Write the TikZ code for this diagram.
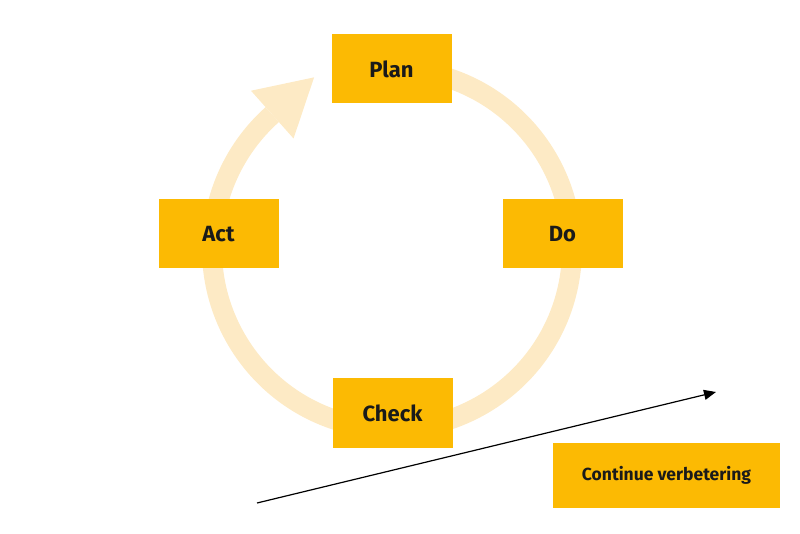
\documentclass[tikz,border=0pt]{standalone}
\usepackage{fontspec}
\setmainfont{Fira Sans}
\usepackage{tikz}
\usetikzlibrary{arrows.meta,positioning,calc}
\definecolor{boxyellow}{RGB}{252,186,3}
\definecolor{ringyellow}{RGB}{253,234,197}
\definecolor{textdark}{RGB}{26,26,26}

\begin{document}
\begin{tikzpicture}[x=1pt, y=1pt,
    stepbox/.style={rectangle, fill=boxyellow, minimum width=120pt, minimum height=69pt,
        inner sep=0pt, text=textdark, font=\fontsize{22}{24}\selectfont\bfseries},
    ring/.style={ringyellow, line width=20pt,
        -{Triangle[length=56pt, width=64pt, line width=0pt]}}]
    \useasboundingbox (0,0) rectangle (800,533);
    
    % Cycle ring
    \coordinate (c) at (392, 284);
    \draw[ring] ($(c)+(80:180)$) arc[start angle=80, end angle=-228.3, radius=180] -- ++(41.7:56);
    
    % Steps
    \node[stepbox] (plan) at (391.5, 464) {Plan};
    \node[stepbox] (do) at (562.5, 299) {Do};
    \node[stepbox] (check) at (392.5, 120) {Check};
    \node[stepbox] (act) at (218.5, 299) {Act};
    
    % Improvement
    \node[stepbox, minimum width=227pt, minimum height=65pt,
        font=\fontsize{17.5}{20}\selectfont\bfseries] (cont) at (666.5, 57.5) {Continue verbetering};
    \coordinate (start) at (257, 30);
    \coordinate (end) at (716, 141);
    \draw[line width=1.2pt, -{Triangle[length=12pt, width=10pt]}] (start) -- (end);
\end{tikzpicture}
\end{document}
